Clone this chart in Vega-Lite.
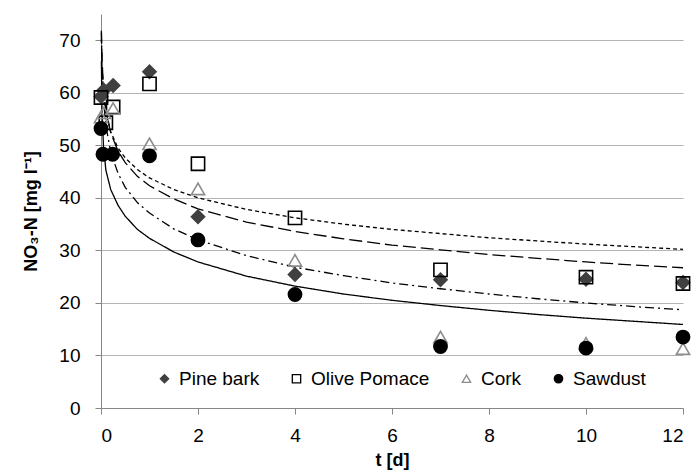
{
  "$schema": "https://vega.github.io/schema/vega-lite/v6.json",
  "width": 582,
  "height": 394,
  "autosize": "none",
  "padding": {"left": 101, "top": 14, "right": 13, "bottom": 65},
  "background": "white",
  "config": {
    "view": {"stroke": null},
    "font": "Liberation Sans",
    "axis": {
      "domainColor": "#868686",
      "tickColor": "#868686",
      "labelColor": "#000000",
      "titleColor": "#000000",
      "labelFont": "Liberation Sans",
      "titleFont": "Liberation Sans",
      "labelFontSize": 19,
      "titleFontSize": 18,
      "titleFontWeight": "bold",
      "tickSize": 6,
      "gridColor": "#b4b4b4",
      "gridWidth": 1.2
    },
    "legend": {
      "labelFont": "Liberation Sans",
      "labelFontSize": 19,
      "labelColor": "#000000",
      "orient": "none",
      "direction": "horizontal",
      "legendX": 54,
      "legendY": 355,
      "columnPadding": 27,
      "symbolSize": 70,
      "labelOffset": 5,
      "padding": 0,
      "symbolStrokeWidth": 1.3
    }
  },
  "datasets": {
    "pts": [
      {"t": 0, "v": 59.3, "s": "Pine bark"},
      {"t": 0.06, "v": 60.5, "s": "Pine bark"},
      {"t": 0.25, "v": 61.4, "s": "Pine bark"},
      {"t": 1, "v": 64.0, "s": "Pine bark"},
      {"t": 2, "v": 36.4, "s": "Pine bark"},
      {"t": 4, "v": 25.4, "s": "Pine bark"},
      {"t": 7, "v": 24.4, "s": "Pine bark"},
      {"t": 10, "v": 24.5, "s": "Pine bark"},
      {"t": 12, "v": 23.9, "s": "Pine bark"},
      {"t": 0, "v": 59.1, "s": "Olive Pomace"},
      {"t": 0.1, "v": 54.3, "s": "Olive Pomace"},
      {"t": 0.25, "v": 57.3, "s": "Olive Pomace"},
      {"t": 1, "v": 61.7, "s": "Olive Pomace"},
      {"t": 2, "v": 46.5, "s": "Olive Pomace"},
      {"t": 4, "v": 36.2, "s": "Olive Pomace"},
      {"t": 7, "v": 26.3, "s": "Olive Pomace"},
      {"t": 10, "v": 24.9, "s": "Olive Pomace"},
      {"t": 12, "v": 23.7, "s": "Olive Pomace"},
      {"t": 0, "v": 55.4, "s": "Cork"},
      {"t": 0.06, "v": 56.2, "s": "Cork"},
      {"t": 0.25, "v": 57.0, "s": "Cork"},
      {"t": 1, "v": 50.3, "s": "Cork"},
      {"t": 2, "v": 41.7, "s": "Cork"},
      {"t": 4, "v": 28.1, "s": "Cork"},
      {"t": 7, "v": 13.5, "s": "Cork"},
      {"t": 10, "v": 12.3, "s": "Cork"},
      {"t": 12, "v": 11.3, "s": "Cork"},
      {"t": 0, "v": 53.2, "s": "Sawdust"},
      {"t": 0.04, "v": 48.3, "s": "Sawdust"},
      {"t": 0.24, "v": 48.3, "s": "Sawdust"},
      {"t": 1, "v": 48.0, "s": "Sawdust"},
      {"t": 2, "v": 32.0, "s": "Sawdust"},
      {"t": 4, "v": 21.6, "s": "Sawdust"},
      {"t": 7, "v": 11.7, "s": "Sawdust"},
      {"t": 10, "v": 11.4, "s": "Sawdust"},
      {"t": 12, "v": 13.5, "s": "Sawdust"}
    ],
    "curves": [
      {"t": 0.008, "v": 66.0, "c": "Sawdust"},
      {"t": 0.02, "v": 57.0, "c": "Sawdust"},
      {"t": 0.05, "v": 50.0, "c": "Sawdust"},
      {"t": 0.1, "v": 45.3, "c": "Sawdust"},
      {"t": 0.2, "v": 41.6, "c": "Sawdust"},
      {"t": 0.35, "v": 38.6, "c": "Sawdust"},
      {"t": 0.5, "v": 36.5, "c": "Sawdust"},
      {"t": 0.75, "v": 34.0, "c": "Sawdust"},
      {"t": 1, "v": 32.3, "c": "Sawdust"},
      {"t": 1.5, "v": 29.7, "c": "Sawdust"},
      {"t": 2, "v": 27.8, "c": "Sawdust"},
      {"t": 3, "v": 25.1, "c": "Sawdust"},
      {"t": 4, "v": 23.2, "c": "Sawdust"},
      {"t": 5, "v": 21.7, "c": "Sawdust"},
      {"t": 6, "v": 20.5, "c": "Sawdust"},
      {"t": 7, "v": 19.5, "c": "Sawdust"},
      {"t": 8, "v": 18.6, "c": "Sawdust"},
      {"t": 9, "v": 17.8, "c": "Sawdust"},
      {"t": 10, "v": 17.1, "c": "Sawdust"},
      {"t": 11, "v": 16.5, "c": "Sawdust"},
      {"t": 12, "v": 15.9, "c": "Sawdust"},
      {"t": 0.008, "v": 71.5, "c": "Cork"},
      {"t": 0.02, "v": 65.5, "c": "Cork"},
      {"t": 0.05, "v": 58.8, "c": "Cork"},
      {"t": 0.1, "v": 53.8, "c": "Cork"},
      {"t": 0.2, "v": 48.7, "c": "Cork"},
      {"t": 0.35, "v": 44.7, "c": "Cork"},
      {"t": 0.5, "v": 42.0, "c": "Cork"},
      {"t": 0.75, "v": 39.1, "c": "Cork"},
      {"t": 1, "v": 37.1, "c": "Cork"},
      {"t": 1.5, "v": 34.1, "c": "Cork"},
      {"t": 2, "v": 32.0, "c": "Cork"},
      {"t": 3, "v": 29.0, "c": "Cork"},
      {"t": 4, "v": 26.8, "c": "Cork"},
      {"t": 5, "v": 25.2, "c": "Cork"},
      {"t": 6, "v": 23.8, "c": "Cork"},
      {"t": 7, "v": 22.7, "c": "Cork"},
      {"t": 8, "v": 21.7, "c": "Cork"},
      {"t": 9, "v": 20.8, "c": "Cork"},
      {"t": 10, "v": 20.0, "c": "Cork"},
      {"t": 11, "v": 19.3, "c": "Cork"},
      {"t": 12, "v": 18.7, "c": "Cork"},
      {"t": 0.008, "v": 71.8, "c": "Pine bark"},
      {"t": 0.02, "v": 66.6, "c": "Pine bark"},
      {"t": 0.05, "v": 61.0, "c": "Pine bark"},
      {"t": 0.1, "v": 56.7, "c": "Pine bark"},
      {"t": 0.2, "v": 52.4, "c": "Pine bark"},
      {"t": 0.35, "v": 48.9, "c": "Pine bark"},
      {"t": 0.5, "v": 46.7, "c": "Pine bark"},
      {"t": 0.75, "v": 44.1, "c": "Pine bark"},
      {"t": 1, "v": 42.3, "c": "Pine bark"},
      {"t": 1.5, "v": 39.8, "c": "Pine bark"},
      {"t": 2, "v": 37.9, "c": "Pine bark"},
      {"t": 3, "v": 35.4, "c": "Pine bark"},
      {"t": 4, "v": 33.6, "c": "Pine bark"},
      {"t": 5, "v": 32.2, "c": "Pine bark"},
      {"t": 6, "v": 31.0, "c": "Pine bark"},
      {"t": 7, "v": 30.1, "c": "Pine bark"},
      {"t": 8, "v": 29.2, "c": "Pine bark"},
      {"t": 9, "v": 28.5, "c": "Pine bark"},
      {"t": 10, "v": 27.8, "c": "Pine bark"},
      {"t": 11, "v": 27.2, "c": "Pine bark"},
      {"t": 12, "v": 26.7, "c": "Pine bark"},
      {"t": 0.008, "v": 70.2, "c": "Olive Pomace"},
      {"t": 0.02, "v": 65.2, "c": "Olive Pomace"},
      {"t": 0.05, "v": 60.2, "c": "Olive Pomace"},
      {"t": 0.1, "v": 56.4, "c": "Olive Pomace"},
      {"t": 0.2, "v": 52.6, "c": "Olive Pomace"},
      {"t": 0.35, "v": 49.5, "c": "Olive Pomace"},
      {"t": 0.5, "v": 47.6, "c": "Olive Pomace"},
      {"t": 0.75, "v": 45.4, "c": "Olive Pomace"},
      {"t": 1, "v": 43.8, "c": "Olive Pomace"},
      {"t": 1.5, "v": 41.6, "c": "Olive Pomace"},
      {"t": 2, "v": 40.0, "c": "Olive Pomace"},
      {"t": 3, "v": 37.8, "c": "Olive Pomace"},
      {"t": 4, "v": 36.2, "c": "Olive Pomace"},
      {"t": 5, "v": 35.0, "c": "Olive Pomace"},
      {"t": 6, "v": 34.0, "c": "Olive Pomace"},
      {"t": 7, "v": 33.2, "c": "Olive Pomace"},
      {"t": 8, "v": 32.4, "c": "Olive Pomace"},
      {"t": 9, "v": 31.8, "c": "Olive Pomace"},
      {"t": 10, "v": 31.2, "c": "Olive Pomace"},
      {"t": 11, "v": 30.7, "c": "Olive Pomace"},
      {"t": 12, "v": 30.2, "c": "Olive Pomace"}
    ]
  },
  "layer": [
    {
      "data": {"name": "curves"},
      "mark": {"type": "line", "color": "#000000", "strokeWidth": 1.3},
      "encoding": {
        "x": {
          "field": "t", "type": "quantitative",
          "scale": {"domain": [0, 12], "nice": false},
          "axis": {"values": [0, 2, 4, 6, 8, 10, 12], "grid": false, "title": "t [d]", "labelPadding": 12, "titlePadding": 6}
        },
        "y": {
          "field": "v", "type": "quantitative",
          "scale": {"domain": [0, 75], "nice": false},
          "axis": {"values": [0, 10, 20, 30, 40, 50, 60, 70], "grid": true, "title": "NO₃-N [mg l⁻¹]", "labelPadding": 15, "titlePadding": 18}
        },
        "strokeDash": {
          "field": "c", "type": "nominal",
          "scale": {"domain": ["Sawdust", "Cork", "Pine bark", "Olive Pomace"], "range": [[1, 0], [9, 4, 2, 4], [13, 5], [4, 3]]},
          "legend": null
        }
      }
    },
    {
      "data": {"name": "pts"},
      "mark": {"type": "point", "filled": false, "strokeWidth": 1.6, "opacity": 1, "size": 175},
      "encoding": {
        "x": {"field": "t", "type": "quantitative"},
        "y": {"field": "v", "type": "quantitative"},
        "shape": {
          "field": "s", "type": "nominal", "title": null,
          "scale": {"domain": ["Pine bark", "Olive Pomace", "Cork", "Sawdust"], "range": ["diamond", "square", "triangle-up", "circle"]}
        },
        "fill": {
          "field": "s", "type": "nominal", "title": null,
          "scale": {"domain": ["Pine bark", "Olive Pomace", "Cork", "Sawdust"], "range": ["#404040", "transparent", "transparent", "#000000"]}
        },
        "stroke": {
          "field": "s", "type": "nominal", "title": null,
          "scale": {"domain": ["Pine bark", "Olive Pomace", "Cork", "Sawdust"], "range": ["#404040", "#000000", "#8c8c8c", "#000000"]}
        }
      }
    }
  ]
}
